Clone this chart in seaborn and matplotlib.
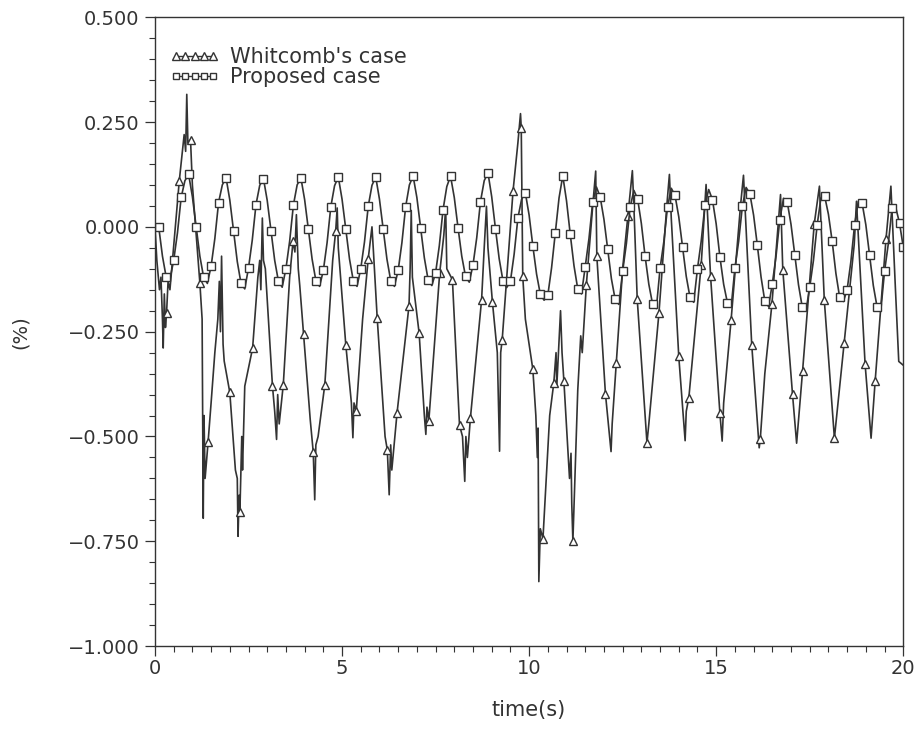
import numpy as np
import matplotlib
matplotlib.use("Agg")
import matplotlib.pyplot as plt
from matplotlib.lines import Line2D
from matplotlib.ticker import MultipleLocator, FuncFormatter
import seaborn as sns

sns.set_style("ticks")
plt.rcParams['font.family'] = ['DejaVu Sans']

# Proposed case, sampled every 0.1 s (squares on odd samples)
prop_v = [
    0.0, 0.0, -0.07, -0.12, -0.125, -0.08, -0.015, 0.07, 0.11, 0.125,
    0.072, 0.0, -0.07, -0.12, -0.135, -0.094, -0.028, 0.058, 0.10, 0.117,
    0.064, -0.01, -0.083, -0.135, -0.148, -0.098, -0.032, 0.053, 0.099, 0.115,
    0.063, -0.009, -0.08, -0.13, -0.144, -0.10, -0.034, 0.052, 0.10, 0.117,
    0.065, -0.006, -0.077, -0.128, -0.142, -0.104, -0.038, 0.048, 0.098, 0.119,
    0.066, -0.006, -0.077, -0.128, -0.142, -0.10, -0.036, 0.049, 0.099, 0.119,
    0.066, -0.006, -0.077, -0.128, -0.142, -0.104, -0.038, 0.048, 0.10, 0.121,
    0.07, -0.002, -0.074, -0.126, -0.14, -0.11, -0.045, 0.041, 0.096, 0.121,
    0.07, -0.002, -0.07, -0.118, -0.132, -0.091, -0.026, 0.06, 0.11, 0.129,
    0.072, -0.004, -0.076, -0.128, -0.145, -0.13, -0.065, 0.021, 0.066, 0.081,
    0.028, -0.046, -0.113, -0.161, -0.175, -0.163, -0.098, -0.014, 0.069, 0.122,
    0.062, -0.018, -0.093, -0.148, -0.16, -0.095, -0.028, 0.059, 0.095, 0.071,
    0.018, -0.054, -0.124, -0.173, -0.185, -0.106, -0.04, 0.047, 0.087, 0.067,
    0.008, -0.07, -0.137, -0.184, -0.195, -0.099, -0.036, 0.048, 0.092, 0.075,
    0.024, -0.048, -0.118, -0.168, -0.18, -0.10, -0.034, 0.052, 0.089, 0.065,
    0.007, -0.072, -0.137, -0.181, -0.192, -0.099, -0.035, 0.049, 0.094, 0.079,
    0.028, -0.044, -0.12, -0.177, -0.19, -0.136, -0.07, 0.017, 0.068, 0.059,
    0.006, -0.066, -0.138, -0.191, -0.2, -0.144, -0.08, 0.005, 0.069, 0.073,
    0.03, -0.034, -0.111, -0.168, -0.178, -0.15, -0.083, 0.005, 0.061, 0.057,
    0.005, -0.068, -0.14, -0.191, -0.2, -0.106, -0.041, 0.044, 0.046, 0.009,
    -0.048,
]
prop_t = np.round(np.arange(len(prop_v)) * 0.1, 1)
prop_marks = list(range(1, len(prop_v), 2)) + [len(prop_v) - 1]

# Whitcomb's case: vertices (incl. chatter spikes)
whit_t = [
    0.00, 0.05, 0.12, 0.16, 0.20, 0.22, 0.25, 0.28, 0.31, 0.35, 0.40,
    0.65, 0.78, 0.82, 0.85, 0.88, 0.95, 1.00,
    1.20, 1.26, 1.29, 1.31, 1.34, 1.42, 1.50, 1.60, 1.68, 1.72, 1.75, 1.78, 1.82, 1.85,
    2.00, 2.15, 2.20, 2.22, 2.25, 2.27, 2.32, 2.34, 2.40, 2.61, 2.75, 2.80, 2.83, 2.87, 2.90, 2.95,
    3.14, 3.20, 3.25, 3.28, 3.32, 3.43, 3.60, 3.69, 3.74, 3.78, 3.83, 3.87, 3.97,
    4.15, 4.23, 4.27, 4.30, 4.36, 4.54, 4.75, 4.83, 4.87, 4.90,
    5.10, 5.25, 5.29, 5.32, 5.38, 5.55, 5.70, 5.80, 5.84, 5.94,
    6.15, 6.21, 6.26, 6.30, 6.33, 6.47, 6.79, 6.82, 6.85, 6.88,
    7.06, 7.20, 7.24, 7.27, 7.32, 7.61, 7.72, 7.77, 7.80, 7.95,
    8.14, 8.22, 8.28, 8.31, 8.35, 8.43, 8.73, 8.80, 8.86, 8.90,
    9.02, 9.15, 9.21, 9.24, 9.28, 9.57, 9.70, 9.77, 9.79, 9.83, 9.90,
    10.10, 10.18, 10.22, 10.24, 10.26, 10.30, 10.37, 10.55, 10.66, 10.72, 10.74, 10.84, 10.88, 10.93,
    11.08, 11.12, 11.14, 11.17, 11.30, 11.38, 11.42, 11.53, 11.70, 11.78, 11.81,
    12.04, 12.19, 12.22, 12.33, 12.50, 12.64, 12.76, 12.80, 12.89,
    13.15, 13.20, 13.47, 13.68, 13.75, 13.80,
    14.00, 14.17, 14.20, 14.27, 14.60, 14.73, 14.85,
    15.10, 15.16, 15.20, 15.40, 15.65, 15.73, 15.78, 15.95,
    16.15, 16.18, 16.30, 16.49, 16.72, 16.78,
    17.04, 17.15, 17.31, 17.62, 17.76, 17.89,
    18.16, 18.42, 18.69, 18.75, 18.98,
    19.14, 19.25, 19.54, 19.67, 19.79, 19.88, 20.00,
]
whit_v = [
    0.000, -0.08, -0.15, -0.12, -0.22, -0.289, -0.16, -0.24, -0.205, -0.13, -0.15,
    0.110, 0.22, 0.18, 0.316, 0.20, 0.208, 0.10,
    -0.134, -0.22, -0.695, -0.45, -0.60, -0.513, -0.42, -0.30, -0.22, -0.13, -0.25, -0.07, -0.28, -0.32,
    -0.395, -0.58, -0.60, -0.738, -0.64, -0.679, -0.50, -0.58, -0.38, -0.289, -0.12, -0.08, -0.15, 0.021, -0.08, -0.10,
    -0.379, -0.44, -0.507, -0.40, -0.47, -0.376, -0.12, -0.034, -0.06, 0.029, -0.10, -0.14, -0.255,
    -0.46, -0.537, -0.651, -0.52, -0.50, -0.376, -0.08, -0.010, 0.045, -0.05,
    -0.281, -0.42, -0.503, -0.42, -0.440, -0.22, -0.076, 0.000, -0.06, -0.218,
    -0.50, -0.532, -0.639, -0.52, -0.58, -0.444, -0.188, -0.10, 0.039, -0.12,
    -0.253, -0.45, -0.495, -0.43, -0.462, -0.110, -0.02, 0.045, -0.10, -0.126,
    -0.473, -0.50, -0.607, -0.50, -0.55, -0.457, -0.174, -0.05, 0.049, -0.05,
    -0.180, -0.30, -0.535, -0.30, -0.270, 0.085, 0.20, 0.270, 0.236, -0.118, -0.22,
    -0.340, -0.45, -0.55, -0.48, -0.846, -0.72, -0.744, -0.45, -0.372, -0.30, -0.38, -0.200, -0.30, -0.368,
    -0.60, -0.54, -0.66, -0.750, -0.39, -0.26, -0.30, -0.138, 0.05, 0.133, -0.070,
    -0.398, -0.536, -0.47, -0.325, -0.10, 0.025, 0.134, 0.05, -0.173,
    -0.515, -0.47, -0.206, 0.05, 0.125, 0.02,
    -0.309, -0.510, -0.44, -0.407, -0.090, 0.101, -0.118,
    -0.445, -0.511, -0.42, -0.221, 0.05, 0.123, 0.03, -0.281,
    -0.527, -0.505, -0.35, -0.184, 0.077, -0.102,
    -0.399, -0.516, -0.343, 0.006, 0.097, -0.175,
    -0.504, -0.277, -0.042, 0.061, -0.327,
    -0.504, -0.367, -0.028, 0.097, -0.146, -0.321, -0.33,
]
# 1 = triangle drawn on that vertex
whit_tri = [
    0, 0, 0, 0, 0, 0, 0, 0, 1, 0, 0,
    1, 0, 0, 0, 0, 1, 0,
    1, 0, 0, 0, 0, 1, 0, 0, 0, 0, 0, 0, 0, 0,
    1, 0, 0, 0, 0, 1, 0, 0, 0, 1, 0, 0, 0, 0, 0, 0,
    1, 0, 0, 0, 0, 1, 0, 1, 0, 0, 0, 0, 1,
    0, 1, 0, 0, 0, 1, 0, 1, 0, 0,
    1, 0, 0, 0, 1, 0, 1, 0, 0, 1,
    0, 1, 0, 0, 0, 1, 1, 0, 0, 0,
    1, 0, 0, 0, 1, 1, 0, 0, 0, 1,
    1, 0, 0, 0, 0, 1, 1, 0, 0, 0,
    1, 0, 0, 0, 1, 1, 0, 0, 1, 1, 0,
    1, 0, 0, 0, 0, 0, 1, 0, 1, 0, 0, 0, 0, 1,
    0, 0, 0, 1, 0, 0, 0, 1, 0, 0, 1,
    1, 0, 0, 1, 0, 1, 0, 0, 1,
    1, 0, 1, 0, 0, 0,
    1, 0, 0, 1, 1, 0, 1,
    1, 0, 0, 1, 0, 0, 0, 1,
    0, 1, 0, 1, 0, 1,
    1, 0, 1, 1, 0, 1,
    1, 1, 0, 0, 1,
    0, 1, 1, 0, 0, 0, 0,
]
tri_idx = [i for i, f in enumerate(whit_tri) if f]

ink = "#333333"

fig, ax = plt.subplots(figsize=(9.17, 7.47), dpi=100)
fig.subplots_adjust(left=0.169, right=0.985, top=0.977, bottom=0.135)

sns.lineplot(x=whit_t, y=whit_v, ax=ax, estimator=None, sort=False,
             color=ink, lw=1.2, marker="^", markevery=tri_idx, markersize=6,
             markerfacecolor="white", markeredgecolor=ink, markeredgewidth=1.0)
sns.lineplot(x=prop_t, y=prop_v, ax=ax, estimator=None, sort=False,
             color=ink, lw=1.2, marker="s", markevery=prop_marks, markersize=6,
             markerfacecolor="white", markeredgecolor=ink, markeredgewidth=1.0)

ax.set_xlim(0, 20)
ax.set_ylim(-1.0, 0.5)
ax.xaxis.set_major_locator(MultipleLocator(5))
ax.xaxis.set_minor_locator(MultipleLocator(0.5))
ax.yaxis.set_major_locator(MultipleLocator(0.25))
ax.yaxis.set_minor_locator(MultipleLocator(0.05))
ax.yaxis.set_major_formatter(FuncFormatter(lambda v, p: f"{v:.3f}".replace("-", "\u2212")))
ax.tick_params(which="major", direction="out", length=7, width=0.9,
               labelsize=14, colors=ink)
ax.tick_params(which="minor", direction="out", length=4, width=0.8, colors=ink)
ax.tick_params(axis="y", pad=4)
ax.tick_params(axis="x", pad=2)
for s in ax.spines.values():
    s.set_color(ink)
    s.set_linewidth(1.0)

ax.set_xlabel("time(s)", fontsize=15, color=ink)
ax.set_ylabel("(%)", fontsize=14, color=ink)
ax.xaxis.set_label_coords(0.5, -0.085)
ax.yaxis.set_label_coords(-0.167, 0.5)

handles = [
    Line2D([], [], color=ink, lw=1.0, marker="^", markersize=5.5,
           markerfacecolor="white", markeredgecolor=ink),
    Line2D([], [], color=ink, lw=1.0, marker="s", markersize=5,
           markerfacecolor="white", markeredgecolor=ink),
]
ax.legend(handles, ["Whitcomb's case", "Proposed case"], loc="upper left",
          bbox_to_anchor=(0.0, 0.975), numpoints=5, handlelength=2.4,
          frameon=False, fontsize=15, labelspacing=0.0, handletextpad=0.5,
          borderaxespad=0.3, borderpad=0.4, labelcolor=ink)

fig.savefig("out.png", dpi=100)
